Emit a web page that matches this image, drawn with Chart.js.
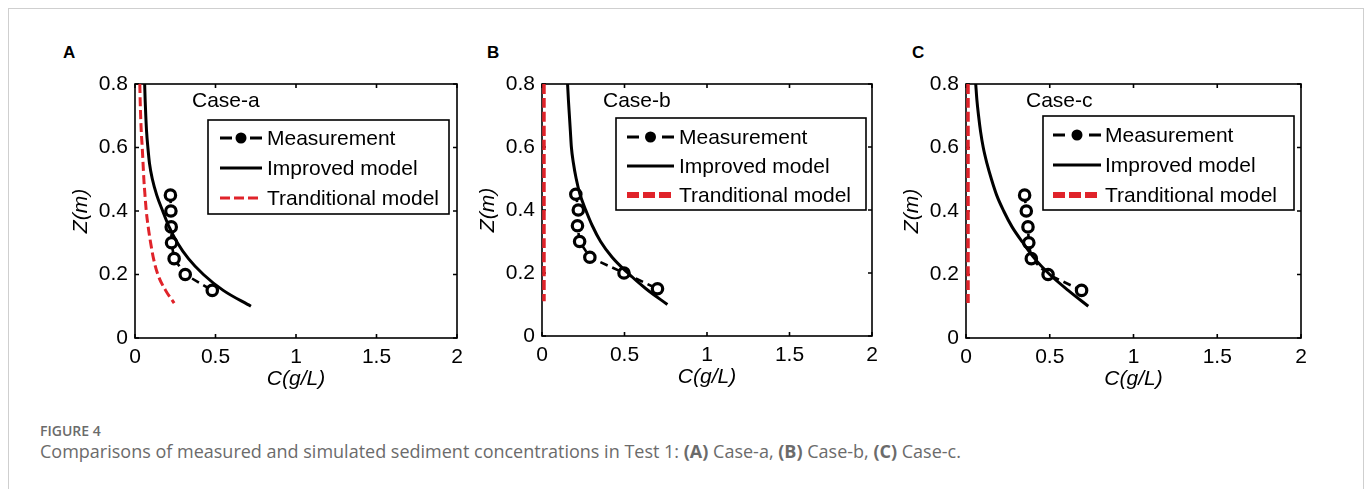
<!DOCTYPE html>
<html lang="en">
<head>
<meta charset="UTF-8">
<title>Figure 4</title>
<script src="https://cdn.jsdelivr.net/npm/chart.js"></script>
<style>
  body { margin: 0; background: #fff; width: 1372px; height: 489px; overflow: hidden; position: relative; }
  .frame { position: absolute; left: 8px; top: 8px; width: 1354px; height: 520px; border: 1px solid #cfcfcf; }
  .panel { position: absolute; top: 40px; }
  .tag { position: absolute; top: 43px; font: bold 17px Arial, 'Liberation Sans', sans-serif; color: #000; }
  #fig { position: absolute; left: 40px; top: 421px; font: 600 14px 'Open Sans', sans-serif; color: #6b6b6b; }
  #cap { position: absolute; left: 40px; top: 439px; font: 400 18px 'Open Sans', sans-serif; color: #6b6b6b; white-space: nowrap; }
  #cap b { font-weight: 700; }
</style>
</head>
<body>
<div class="frame"></div>
<div class="tag" style="left:63px">A</div>
<div class="tag" style="left:487px">B</div>
<div class="tag" style="left:912px">C</div>
<canvas id="cA" class="panel"></canvas>
<canvas id="cB" class="panel"></canvas>
<canvas id="cC" class="panel"></canvas>
<div id="fig">FIGURE 4</div>
<div id="cap">Comparisons of measured and simulated sediment concentrations in Test 1: <b>(A)</b> Case-a, <b>(B)</b> Case-b, <b>(C)</b> Case-c.</div>

<script>
// ---- data (C in g/L, Z in m) ----
const xTicks = [0, 0.5, 1, 1.5, 2];
const xTickLabels = ['0', '0.5', '1', '1.5', '2'];
const yTicks = [0, 0.2, 0.4, 0.6, 0.8];
const yTickLabels = ['0', '0.2', '0.4', '0.6', '0.8'];
const seriesNames = ['Measurement', 'Improved model', 'Tranditional model'];
const caseNames = ['Case-a', 'Case-b', 'Case-c'];

const measZ = [0.45, 0.40, 0.35, 0.30, 0.25, 0.20, 0.15];
const measA = [0.22, 0.223, 0.225, 0.227, 0.243, 0.312, 0.48];
const measB = [0.205, 0.22, 0.215, 0.228, 0.29, 0.497, 0.70];
const measC = [0.35, 0.36, 0.37, 0.375, 0.39, 0.49, 0.69];

const modelZ = [0.8, 0.75, 0.7, 0.65, 0.6, 0.55, 0.5, 0.45, 0.4, 0.35, 0.3, 0.25, 0.2, 0.15, 0.1];
const improvedA = [0.060, 0.063, 0.067, 0.072, 0.080, 0.090, 0.108, 0.135, 0.172, 0.212, 0.263, 0.332, 0.425, 0.548, 0.72];
const improvedB = [0.155, 0.16, 0.166, 0.172, 0.178, 0.19, 0.207, 0.23, 0.265, 0.305, 0.355, 0.425, 0.52, 0.63, 0.76];
const improvedC = [0.058, 0.065, 0.075, 0.087, 0.103, 0.125, 0.152, 0.183, 0.225, 0.275, 0.34, 0.41, 0.50, 0.61, 0.73];

const tradZA = [0.8, 0.75, 0.7, 0.65, 0.6, 0.55, 0.5, 0.45, 0.4, 0.35, 0.3, 0.25, 0.2, 0.15, 0.11];
const tradA = [0.03, 0.032, 0.035, 0.039, 0.045, 0.05, 0.055, 0.062, 0.07, 0.082, 0.097, 0.115, 0.142, 0.19, 0.243];
const tradZB = [0.8, 0.11];
const tradB = [0.012, 0.012];
const tradC = [0.012, 0.012];

const RED = '#e0232a';
const FONT = "Arial, 'Liberation Sans', sans-serif";

const toPts = (xs, zs) => xs.map((c, i) => ({ x: c, y: zs[i] }));

// plot box in page pixels, plus legend / label placement relative to it
const panels = [
  { id: 'cA', area: { l: 135, t: 84, r: 457, b: 338 }, name: caseNames[0], meas: measA, imp: improvedA, trad: tradA, tradZ: tradZA,
    tradStyle: { w: 3, dash: [9, 4] }, legStyle: { w: 3, dash: [10, 4] },
    caseX: 57, leg: { dx: 73, dy: 36, w: 241, h: 94, rows: [18, 48, 78], s0: 12, s1: 54, tx: 59 } },
  { id: 'cB', area: { l: 542, t: 84, r: 872, b: 336 }, name: caseNames[1], meas: measB, imp: improvedB, trad: tradB, tradZ: tradZB,
    tradStyle: { w: 3.5, dash: [10, 4] }, legStyle: { w: 6, dash: [12, 4] },
    caseX: 61, leg: { dx: 74, dy: 34, w: 250, h: 92, rows: [19, 48, 77], s0: 11, s1: 58, tx: 63 } },
  { id: 'cC', area: { l: 966, t: 84, r: 1301, b: 338 }, name: caseNames[2], meas: measC, imp: improvedC, trad: tradC, tradZ: tradZB,
    tradStyle: { w: 3.5, dash: [10, 4] }, legStyle: { w: 6, dash: [12, 4] },
    caseX: 60, leg: { dx: 77, dy: 32, w: 251, h: 94, rows: [19, 49, 79], s0: 10, s1: 58, tx: 62 } }
];

const boxPlugin = {
  id: 'matlabBox',
  beforeDatasetsDraw(chart) {
    const { ctx, chartArea: { left, top, right, bottom }, scales: { x, y } } = chart;
    ctx.save();
    ctx.strokeStyle = '#000';
    ctx.lineWidth = 1.6;
    ctx.strokeRect(left, top, right - left, bottom - top);
    ctx.beginPath();
    x.ticks.forEach(t => {
      const px = x.getPixelForValue(t.value);
      ctx.moveTo(px, bottom); ctx.lineTo(px, bottom - 4);
      ctx.moveTo(px, top); ctx.lineTo(px, top + 4);
    });
    y.ticks.forEach(t => {
      const py = y.getPixelForValue(t.value);
      ctx.moveTo(left, py); ctx.lineTo(left + 4, py);
      ctx.moveTo(right, py); ctx.lineTo(right - 4, py);
    });
    ctx.stroke();
    ctx.restore();
  },
  afterDraw(chart, args, opts) {
    const p = opts.panel;
    const { ctx, chartArea: { left, top } } = chart;
    ctx.save();
    ctx.fillStyle = '#000';
    ctx.font = '21px ' + FONT;
    ctx.textBaseline = 'middle';
    ctx.fillText(p.name, left + p.caseX, top + 17);

    const L = p.leg, lx = left + L.dx, ly = top + L.dy;
    ctx.fillStyle = '#fff';
    ctx.fillRect(lx, ly, L.w, L.h);
    ctx.strokeStyle = '#000';
    ctx.lineWidth = 1.6;
    ctx.strokeRect(lx, ly, L.w, L.h);

    const s0 = lx + L.s0, s1 = lx + L.s1, mid = (s0 + s1) / 2;
    // measurement sample
    let yy = ly + L.rows[0];
    ctx.lineWidth = 3.2;
    ctx.beginPath();
    ctx.moveTo(s0, yy); ctx.lineTo(s0 + 12, yy);
    ctx.moveTo(s1 - 12, yy); ctx.lineTo(s1, yy);
    ctx.stroke();
    ctx.fillStyle = '#000';
    ctx.beginPath(); ctx.arc(mid, yy, 5.5, 0, Math.PI * 2); ctx.fill();
    // improved sample
    yy = ly + L.rows[1];
    ctx.beginPath(); ctx.moveTo(s0, yy); ctx.lineTo(s1, yy); ctx.stroke();
    // traditional sample
    yy = ly + L.rows[2];
    ctx.strokeStyle = RED;
    ctx.lineWidth = p.legStyle.w;
    ctx.setLineDash(p.legStyle.dash);
    ctx.beginPath(); ctx.moveTo(s0, yy); ctx.lineTo(s1, yy); ctx.stroke();
    ctx.setLineDash([]);

    ctx.fillStyle = '#000';
    seriesNames.forEach((n, i) => ctx.fillText(n, lx + L.tx, ly + L.rows[i] + 1));
    ctx.restore();
  }
};

panels.forEach(p => {
  const a = p.area;
  const cv = document.getElementById(p.id);
  const W = a.r - a.l + 95, H = 360;
  cv.width = W; cv.height = H;
  cv.style.left = (a.l - 70) + 'px';
  const yAxisW = 66, xAxisH = 54;

  new Chart(cv, {
    type: 'scatter',
    data: {
      datasets: [
        { label: seriesNames[2], data: toPts(p.trad, p.tradZ), showLine: true, borderColor: RED,
          borderWidth: p.tradStyle.w, borderDash: p.tradStyle.dash, pointRadius: 0, cubicInterpolationMode: 'monotone' },
        { label: seriesNames[1], data: toPts(p.imp, modelZ), showLine: true, borderColor: '#000',
          borderWidth: 3, pointRadius: 0, cubicInterpolationMode: 'monotone' },
        { label: seriesNames[0], data: toPts(p.meas, measZ), showLine: true, borderColor: '#000',
          borderWidth: 2.6, borderDash: [8, 5], pointRadius: 5.2, pointBorderWidth: 3.2,
          pointBackgroundColor: '#fff', pointBorderColor: '#000' }
      ]
    },
    options: {
      responsive: false,
      animation: false,
      devicePixelRatio: 1,
      layout: { padding: { left: 4, right: 25, top: a.t - 40, bottom: H - (a.b - 40) - xAxisH } },
      plugins: { legend: { display: false }, tooltip: { enabled: false }, matlabBox: { panel: p } },
      scales: {
        x: {
          type: 'linear', min: 0, max: 2,
          afterBuildTicks: s => { s.ticks = xTicks.map(v => ({ value: v })); },
          afterFit: s => { s.height = xAxisH; },
          ticks: { callback: (v, i) => xTickLabels[i], color: '#000', font: { family: FONT, size: 21 }, padding: 7, maxRotation: 0, autoSkip: false },
          grid: { display: false, drawTicks: false },
          border: { display: false },
          title: { display: true, text: 'C(g/L)', color: '#000', font: { family: FONT, size: 21, style: 'italic' }, padding: 0 }
        },
        y: {
          type: 'linear', min: 0, max: 0.8,
          afterBuildTicks: s => { s.ticks = yTicks.map(v => ({ value: v })); },
          afterFit: s => { s.width = yAxisW; },
          ticks: { callback: (v, i) => yTickLabels[i], color: '#000', font: { family: FONT, size: 21 }, padding: 7, autoSkip: false },
          grid: { display: false, drawTicks: false },
          border: { display: false },
          title: { display: true, text: 'Z(m)', color: '#000', font: { family: FONT, size: 21, style: 'italic' }, padding: 0 }
        }
      }
    },
    plugins: [boxPlugin]
  });
});
</script>
</body>
</html>
